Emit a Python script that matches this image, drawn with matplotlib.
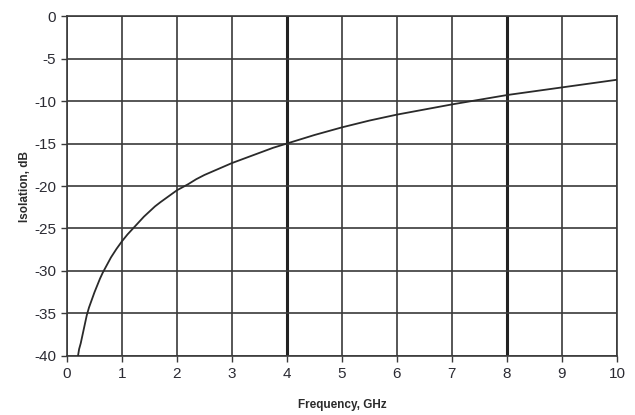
import matplotlib
matplotlib.use("Agg")
from matplotlib import pyplot as plt

plt.rcParams['font.family'] = ['Liberation Sans', 'DejaVu Sans']
plt.rcParams['axes.unicode_minus'] = False

# isolation curve
freq_ghz = [0.2, 0.22, 0.25, 0.3, 0.36, 0.4, 0.45, 0.5, 0.55, 0.6, 0.65, 0.7, 0.8,
            0.9, 1.0, 1.1, 1.2, 1.3, 1.4, 1.5, 1.6, 1.7, 1.85, 2.0, 2.2, 2.35, 2.5,
            2.75, 3.0, 3.25, 3.5, 3.75, 4.0, 4.5, 5.0, 5.5, 6.0, 6.5, 7.0, 7.5,
            8.0, 8.5, 9.0, 9.5, 10.0]
isolation_db = [-40.0, -39.2, -38.5, -37.0, -35.2, -34.3, -33.4, -32.5, -31.7, -30.9,
                -30.2, -29.6, -28.4, -27.4, -26.5, -25.7, -25.0, -24.3, -23.6, -23.0,
                -22.4, -21.9, -21.2, -20.5, -19.8, -19.2, -18.7, -18.0, -17.3, -16.7,
                -16.1, -15.5, -15.0, -14.0, -13.1, -12.3, -11.6, -11.0, -10.4, -9.85,
                -9.3, -8.85, -8.4, -7.95, -7.5]
x_ticks = list(range(0, 11))
y_ticks = list(range(-40, 1, 5))
bold_lines = [4, 8]

fig = plt.figure(figsize=(6.35, 4.15), dpi=100)
ax = fig.add_axes([0.1055, 0.1422, 0.866, 0.8192])

gc = '#3a3a3a'
for x in x_ticks:
    lw = 2.2 if x in bold_lines else 1.2
    ax.axvline(x, color='#222222' if x in bold_lines else gc, lw=lw, zorder=1)
for y in y_ticks:
    ax.axhline(y, color=gc, lw=1.2, zorder=1)

ax.plot(freq_ghz, isolation_db, color='#2a2a2a', lw=1.3, zorder=3)

ax.set_xlim(0, 10)
ax.set_ylim(-40, 0)
ax.set_xticks(x_ticks)
ax.set_yticks(y_ticks)
ax.tick_params(direction='out', length=4, width=1.0, color=gc,
               labelsize=11, labelcolor='#2b2b33', pad=4)
for s in ax.spines.values():
    s.set_color(gc)
    s.set_linewidth(1.2)

ax.set_xlabel('Frequency, GHz', fontsize=8.5, fontweight='bold', color='#2b2b2b', labelpad=13)
ax.set_ylabel('Isolation, dB', fontsize=8.5, fontweight='bold', color='#2b2b2b', labelpad=2)

fig.savefig('out.png', dpi=100)
